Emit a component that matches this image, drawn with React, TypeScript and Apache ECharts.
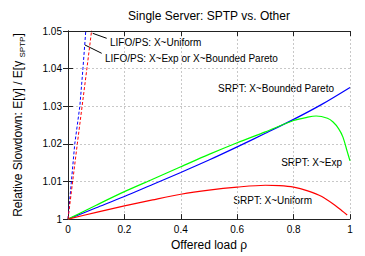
import React, { useEffect, useRef } from "react";
import * as echarts from "echarts";

const xTicks = [0, 0.2, 0.4, 0.6, 0.8, 1];
const yTicks = [1, 1.01, 1.02, 1.03, 1.04, 1.05];

const srptParetoX = [0, 0.1, 0.2, 0.3, 0.4, 0.5, 0.6, 0.7, 0.8, 0.9, 1.0];
const srptParetoY = [1, 1.003, 1.006, 1.0092, 1.0124, 1.0157, 1.0192, 1.0228, 1.0265, 1.0305, 1.035];

const srptExpX = [0, 0.1, 0.2, 0.3, 0.4, 0.5, 0.6, 0.7, 0.8, 0.85, 0.88, 0.92, 0.94, 0.96, 0.975, 0.99, 1.0];
const srptExpY = [1, 1.0037, 1.0073, 1.0106, 1.0139, 1.0172, 1.0203, 1.0232, 1.0262, 1.0271, 1.0274, 1.0268, 1.0258, 1.024, 1.0218, 1.018, 1.0155];

const srptUniX = [0, 0.1, 0.2, 0.3, 0.4, 0.5, 0.6, 0.7, 0.75, 0.8, 0.85, 0.9, 0.95, 0.97, 0.99];
const srptUniY = [1, 1.0018, 1.0035, 1.0051, 1.0066, 1.0077, 1.0085, 1.009, 1.0089, 1.0085, 1.0075, 1.006, 1.0035, 1.0023, 1.0011];

const lifoUniX = [0, 0.024, 0.042, 0.053, 0.063, 0.066];
const lifoUniY = [1, 1.02, 1.03, 1.04, 1.05, 1.053];

const lifoExpX = [0, 0.033, 0.05, 0.067, 0.0835, 0.087];
const lifoExpY = [1, 1.02, 1.03, 1.04, 1.05, 1.053];

const zip = (xs: number[], ys: number[]) => xs.map((x, i) => [x, ys[i]]);

const FONT = "Liberation Sans, Arial, sans-serif";

export default function App() {
  const ref = useRef<HTMLDivElement>(null);
  useEffect(() => {
    if (!ref.current) return;
    const chart = echarts.init(ref.current, null, { renderer: "svg" });
    const axisCommon = {
      axisLine: { show: true, lineStyle: { color: "#222", width: 1 } },
      axisTick: { show: true, inside: true, length: 5, lineStyle: { color: "#222" } },
    };
    const fmt = (v: number) => String(Number(v.toFixed(2)));
    chart.setOption({
      animation: false,
      backgroundColor: "#fff",
      textStyle: { fontFamily: FONT },
      grid: { left: 68, right: 15, top: 31, bottom: 33, containLabel: false },
      xAxis: [
        {
          type: "value",
          min: xTicks[0],
          max: xTicks[xTicks.length - 1],
          interval: 0.2,
          ...axisCommon,
          axisLabel: { color: "#000", fontSize: 10, fontFamily: FONT, margin: 5, formatter: fmt },
          splitLine: { show: true, lineStyle: { color: "#c8c8c8", type: [2, 2], width: 1 } },
          name: "Offered load ρ",
          nameLocation: "middle",
          nameGap: 18,
          nameTextStyle: { color: "#000", fontSize: 12, fontFamily: FONT },
        },
        {
          type: "value",
          position: "top",
          min: xTicks[0],
          max: xTicks[xTicks.length - 1],
          interval: 0.2,
          ...axisCommon,
          axisLabel: { show: false },
          splitLine: { show: false },
        },
      ],
      yAxis: [
        {
          type: "value",
          min: yTicks[0],
          max: yTicks[yTicks.length - 1],
          interval: 0.01,
          ...axisCommon,
          axisLabel: { color: "#000", fontSize: 10, fontFamily: FONT, margin: 6, formatter: fmt },
          splitLine: { show: true, lineStyle: { color: "#c8c8c8", type: [2, 2], width: 1 } },
          name: "{m|Relative Slowdown: E[γ] / E[γ }{s|SPTP}{m|]}",
          nameLocation: "middle",
          nameRotate: 90,
          nameGap: 42,
          nameTextStyle: {
            color: "#000",
            fontFamily: FONT,
            rich: {
              m: { fontSize: 12, fontFamily: FONT, color: "#000", lineHeight: 16, verticalAlign: "middle" },
              s: { fontSize: 8, fontFamily: FONT, color: "#000", lineHeight: 16, verticalAlign: "bottom", padding: [4, 0, 0, 0] },
            },
          },
        },
        {
          type: "value",
          position: "right",
          min: yTicks[0],
          max: yTicks[yTicks.length - 1],
          interval: 0.01,
          ...axisCommon,
          axisLabel: { show: false },
          splitLine: { show: false },
        },
      ],
      series: [
        {
          type: "line",
          data: zip(lifoUniX, lifoUniY),
          showSymbol: false,
          clip: true,
          lineStyle: { color: "#0000ff", width: 1, type: [3, 2] },
        },
        {
          type: "line",
          data: zip(lifoExpX, lifoExpY),
          showSymbol: false,
          clip: true,
          lineStyle: { color: "#ff0000", width: 1, type: [3, 2] },
        },
        {
          type: "line",
          data: zip(srptParetoX, srptParetoY),
          showSymbol: false,
          smooth: 0.3,
          lineStyle: { color: "#0000ff", width: 1.2 },
        },
        {
          type: "line",
          data: zip(srptExpX, srptExpY),
          showSymbol: false,
          smooth: 0.3,
          lineStyle: { color: "#00ff00", width: 1.2 },
        },
        {
          type: "line",
          data: zip(srptUniX, srptUniY),
          showSymbol: false,
          smooth: 0.3,
          lineStyle: { color: "#ff0000", width: 1.2 },
        },
      ],
      graphic: [
        {
          type: "text",
          x: 209,
          y: 15.5,
          style: {
            text: "Single Server: SPTP vs. Other",
            fill: "#000",
            fontSize: 12,
            fontFamily: FONT,
            textAlign: "center",
            textVerticalAlign: "middle",
          },
        },
        {
          type: "line",
          shape: { x1: 92.7, y1: 33.3, x2: 106.7, y2: 38.3 },
          style: { stroke: "#000", lineWidth: 1 },
        },
        {
          type: "line",
          shape: { x1: 85, y1: 45, x2: 101.7, y2: 53.3 },
          style: { stroke: "#000", lineWidth: 1 },
        },
        {
          type: "text",
          x: 110,
          y: 42.5,
          style: { text: "LIFO/PS: X~Uniform", fill: "#000", fontSize: 10, fontFamily: FONT, textVerticalAlign: "middle" },
        },
        {
          type: "text",
          x: 105,
          y: 58.5,
          style: { text: "LIFO/PS: X~Exp or X~Bounded Pareto", fill: "#000", fontSize: 10, fontFamily: FONT, textVerticalAlign: "middle" },
        },
        {
          type: "text",
          x: 334,
          y: 88.5,
          style: { text: "SRPT: X~Bounded Pareto", fill: "#000", fontSize: 10, fontFamily: FONT, textAlign: "right", textVerticalAlign: "middle" },
        },
        {
          type: "text",
          x: 342,
          y: 162,
          style: { text: "SRPT: X~Exp", fill: "#000", fontSize: 10, fontFamily: FONT, textAlign: "right", textVerticalAlign: "middle" },
        },
        {
          type: "text",
          x: 312,
          y: 200,
          style: { text: "SRPT: X~Uniform", fill: "#000", fontSize: 10, fontFamily: FONT, textAlign: "right", textVerticalAlign: "middle" },
        },
      ],
    });
    return () => chart.dispose();
  }, []);
  return (
    <div
      ref={ref}
      style={{ position: "fixed", left: 0, top: 0, width: 365, height: 256, background: "#fff" }}
    />
  );
}
